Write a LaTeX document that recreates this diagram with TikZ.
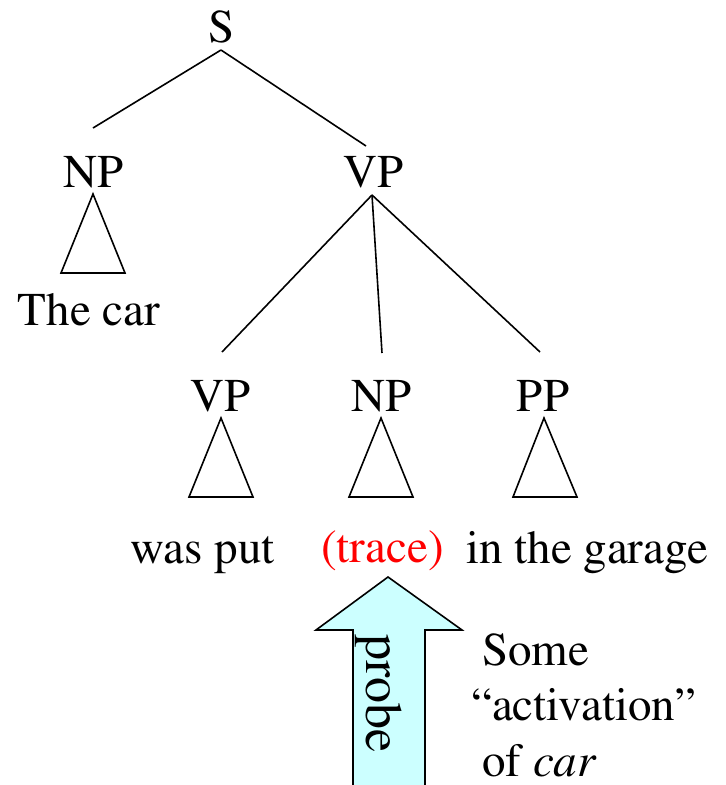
\documentclass[tikz,border=0pt]{standalone}
\usepackage[T1]{fontenc}
\usepackage{mathptmx}
\definecolor{probefill}{HTML}{CCFFFF}
\definecolor{tracered}{HTML}{FF0000}
\tikzset{
  lbl/.style={inner sep=0pt, anchor=base, font=\rmfamily\fontsize{47}{54}\selectfont},
  edge/.style={draw=black, line width=1.6pt},
  tri/.style={draw=black, line width=1.6pt, line join=miter},
  probearrow/.style={draw=black, fill=probefill, line width=1.6pt, line join=miter}
}
\begin{document}
\begin{tikzpicture}[x=1pt,y=-1pt]
\useasboundingbox (0,0) rectangle (726,785);
% labels
\node[lbl] (S) at (222,42) {S};
\node[lbl] (NP1) at (94,187) {NP};
\node[lbl] (VP1) at (374,187) {VP};
\node[lbl] (car) at (89,325) {The car};
\node[lbl] (VP2) at (221,411) {VP};
\node[lbl] (NP2) at (382,411) {NP};
\node[lbl] (PP) at (543,411) {PP};
\node[lbl] (was) at (202.5,563) {was put};
\node[lbl, text=tracered] (trace) at (382.5,562) {(trace)};
\node[lbl] (garage) at (587.5,563) {in the garage};
% edges
\coordinate (Sb) at (221,50);
\coordinate (NP1t) at (93,128);
\coordinate (VP1t) at (366,146);
\coordinate (VP1b) at (372,195);
\coordinate (VP2t) at (222,352);
\coordinate (NP2t) at (382,353);
\coordinate (PPt) at (540,352);
\draw[edge] (Sb) -- (NP1t);
\draw[edge] (Sb) -- (VP1t);
\draw[edge] (VP1b) -- (VP2t);
\draw[edge] (VP1b) -- (NP2t);
\draw[edge] (VP1b) -- (PPt);
% triangles
\draw[tri] (93,194) -- (61,273) -- (125,273) -- cycle;
\draw[tri] (221,418) -- (189,497) -- (253,497) -- cycle;
\draw[tri] (381,418) -- (349,497) -- (413,497) -- cycle;
\draw[tri] (544,418) -- (513,497) -- (577,497) -- cycle;
% probe arrow
\draw[probearrow] (353,800) -- (353,630) -- (316,630) -- (388,577) -- (462,630) -- (425,630) -- (425,800);
\node[inner sep=0pt, anchor=base west, rotate=-90, font=\rmfamily\fontsize{52}{60}\selectfont] (probe) at (366,634) {probe};
% side note
\node[lbl, anchor=base west] (some) at (482,665) {Some};
\node[lbl, anchor=base west] (act) at (471,720) {``activation''};
\node[lbl, anchor=base west] (ofcar) at (482,776) {of \textit{car}};
\end{tikzpicture}
\end{document}
